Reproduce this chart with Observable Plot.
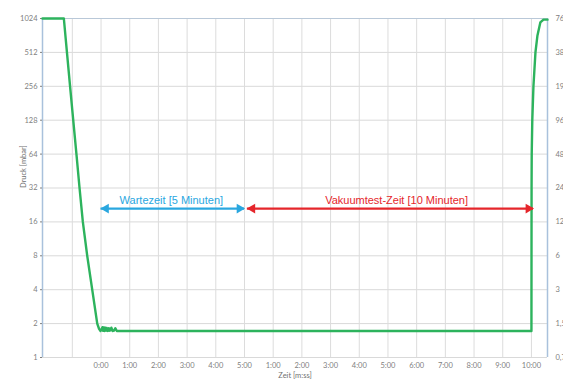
<!DOCTYPE html>
<html>
<head>
<meta charset="utf-8">
<script src="https://cdn.jsdelivr.net/npm/d3@7"></script>
<script src="https://cdn.jsdelivr.net/npm/@observablehq/plot@0.6"></script>
<style>
  html, body { margin: 0; padding: 0; background: #fff; overflow: hidden; }
</style>
</head>
<body>
<div id="chart"></div>
<script>
// ---- data ----
const time = [-2.04, -1.296, -1.188, -1.079, -0.969, -0.857, -0.749, -0.634, -0.481, -0.307, -0.132, -0.07, -0.017,
  0.02, 0.05, 0.07, 0.10, 0.12, 0.15, 0.18, 0.20, 0.24, 0.27, 0.30, 0.33, 0.36, 0.40, 0.45, 0.50, 0.55, 0.58,
  15.0, 15.005, 15.01, 15.03, 15.07, 15.14, 15.21, 15.31, 15.42, 15.56];
const pressure = [1024, 1024, 512, 256, 128, 64, 32, 16, 8, 4, 2, 1.8, 1.72,
  1.78, 1.86, 1.73, 1.85, 1.72, 1.84, 1.73, 1.83, 1.72, 1.82, 1.73, 1.74, 1.84, 1.72, 1.73, 1.82, 1.72, 1.72,
  1.72, 32, 64, 128, 256, 512, 724, 944, 1000, 1000];

const xDomain = [-2.04, 15.56];
const xGrid = [-1, 0, 1, 2, 3, 4, 5, 6, 7, 8, 9, 10, 11, 12, 13, 14, 15];
const xTicks = [0, 1, 2, 3, 4, 5, 6, 7, 8, 9, 10, 11, 12, 13, 14, 15];
const xTickLabels = ["0:00", "1:00", "2:00", "3:00", "4:00", "5:00", "1:00", "2:00", "3:00", "4:00",
  "5:00", "6:00", "7:00", "8:00", "9:00", "10:00"];
const yTicks = [1, 2, 4, 8, 16, 32, 64, 128, 256, 512, 1024];
const yRightLabels = ["0,75", "1,5", "3", "6", "12", "24", "48", "96", "192", "384", "768"];

const annotLabels = ["Wartezeit [5 Minuten]", "Vakuumtest-Zeit [10 Minuten]"];
const annotStart = [0, 5.1];
const annotEnd = [5, 15.07];
const annotTextX = [2.45, 10.3];
const annotY = [21, 21];
const annotColors = ["#2aa7df", "#e5262b"];

const xLabel = "Zeit [m:ss]";
const yLabel = "Druck [mbar]";

// ---- build ----
const series = time.map((t, i) => ({t, p: pressure[i]}));
const annots = annotLabels.map((label, i) => ({
  label, x1: annotStart[i], x2: annotEnd[i], tx: annotTextX[i], y: annotY[i], color: annotColors[i]
}));

const chart = Plot.plot({
  width: 563,
  height: 381,
  marginLeft: 42,
  marginRight: 16,
  marginTop: 18,
  marginBottom: 24,
  style: {fontFamily: "Lato, 'Open Sans', sans-serif", fontSize: "7.5px", color: "#808080", background: "#fff", overflow: "visible"},
  x: {domain: xDomain},
  y: {type: "log", base: 2, domain: [1, 1024]},
  color: {type: "identity"},
  marks: [
    Plot.gridY(yTicks, {stroke: "#d9d9d9", strokeOpacity: 1}),
    Plot.gridX(xGrid, {stroke: "#dcdcdc", strokeOpacity: 1}),
    Plot.ruleY([1024], {stroke: "#b9c8d8", strokeWidth: 1}),
    Plot.ruleX(xDomain, {stroke: "#a9c1dc", strokeWidth: 1.5}),
    Plot.axisY(yTicks, {anchor: "left", tickSize: 2, tickPadding: 3, label: null, tickFormat: d => String(d)}),
    Plot.axisY(yTicks, {anchor: "right", tickSize: 0, tickPadding: 8, label: null, textAnchor: "start",
      tickFormat: d => yRightLabels[yTicks.indexOf(d)]}),
    Plot.axisX(xTicks, {anchor: "bottom", tickSize: 0, tickPadding: 5, label: null,
      tickFormat: d => xTickLabels[xTicks.indexOf(d)]}),
    Plot.line(series, {x: "t", y: "p", stroke: "#2db35d", strokeWidth: 2.4, curve: "linear", strokeLinejoin: "round"}),
    Plot.ruleY(annots, {y: "y", x1: "x1", x2: "x2", stroke: "color", strokeWidth: 2.2}),
    Plot.dot(annots, {x: "x1", y: "y", symbol: "triangle", r: 3.6, fill: "color", rotate: -90, dx: 5}),
    Plot.dot(annots, {x: "x2", y: "y", symbol: "triangle", r: 3.6, fill: "color", rotate: 90, dx: -5}),
    Plot.text(annots, {x: "tx", y: "y", text: "label", fill: "color", dy: -8,
      fontSize: 11, fontFamily: "'Liberation Sans', Arial, sans-serif"}),
    Plot.text([yLabel], {frameAnchor: "left", dx: -19, rotate: -90, fill: "#707070", fontSize: 7.5}),
    Plot.text([xLabel], {frameAnchor: "bottom", dy: 20, fill: "#707070", fontSize: 7.5})
  ]
});
document.getElementById("chart").appendChild(chart);
</script>
</body>
</html>
